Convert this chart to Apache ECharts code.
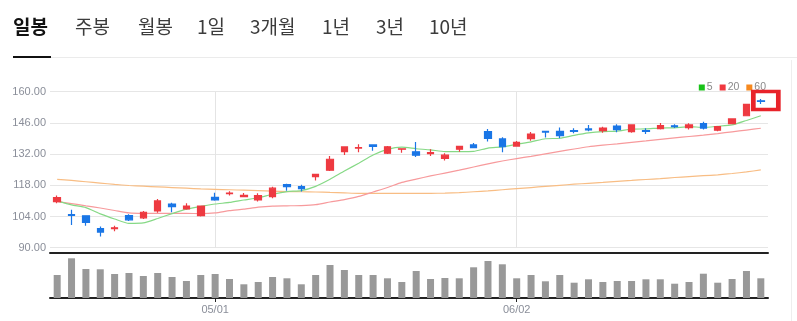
<!DOCTYPE html>
<html>
<head>
<meta charset="utf-8">
<script src="https://cdn.jsdelivr.net/npm/echarts@6/dist/echarts.min.js"></script>
<style>
  html, body { margin: 0; padding: 0; background: #fff; }
  #wrap { position: relative; width: 797px; height: 321px; overflow: hidden; }
  .tab { position: absolute; top: 15px; font-family: "Noto Sans CJK KR", sans-serif; font-size: 19px; line-height: 22px; color: #3c3c3c; white-space: nowrap; }
  .tab.on { color: #111; font-weight: 700; }
  #chart { position: absolute; left: 0; top: 0; width: 797px; height: 321px; }
</style>
</head>
<body>
<div id="wrap">
  <div id="chart"></div>
  <div id="tabs"></div>
  <div style="position:absolute;left:13px;top:57px;width:784px;height:1px;background:#ebebeb"></div>
  <div style="position:absolute;left:13px;top:56px;width:38px;height:2px;background:#111"></div>
  <div style="position:absolute;left:791px;top:60px;width:1px;height:261px;background:#eeeeee"></div>
</div>
<script>
// ---- data ----
const tabLabels = ['일봉', '주봉', '월봉', '1일', '3개월', '1년', '3년', '10년'];
const tabLeft = [13, 75, 138, 197, 250, 322, 376, 429];

const dates = ['04/15','04/16','04/17','04/21','04/22','04/23','04/24','04/25','04/28','04/29',
  '04/30','05/01','05/02','05/05','05/06','05/07','05/08','05/09','05/12','05/13',
  '05/14','05/15','05/16','05/19','05/20','05/21','05/22','05/23','05/27','05/28',
  '05/29','05/30','06/02','06/03','06/04','06/05','06/06','06/09','06/10','06/11',
  '06/12','06/13','06/16','06/17','06/18','06/20','06/23','06/24','06/25','06/26'];
const shownDates = ['05/01', '06/02'];

const openV  = [110.7,104.8,104.3,98.6,98.5,104.4,103.4,106.5,109.6,107.4,
  104.4,112.6,114.2,112.9,111.4,112.9,118.3,117.4,121.9,124.8,
  133.1,134.7,136.1,132.4,134.2,133.0,132.2,130.1,134.2,136.1,
  142.1,138.8,135.6,138.9,142.2,142.2,142.6,143.3,142.5,144.6,
  142.1,142.6,143.4,144.7,143.9,145.7,142.7,145.7,149.2,155.9];
const closeV = [112.5,104.5,101.4,97.0,98.9,102.5,105.9,111.0,108.4,108.7,
  108.7,111.4,114.5,113.5,113.4,116.7,117.4,116.5,122.9,129.7,
  135.2,134.9,135.5,135.3,134.4,131.5,132.7,131.5,135.5,134.9,
  139.1,135.3,137.3,141.0,141.9,140.3,142.2,142.9,143.7,143.0,
  145.1,142.2,144.8,144.3,145.1,143.7,144.3,147.8,154.3,155.6];
const lowV   = [110.0,100.2,99.9,95.0,97.4,102.0,102.9,105.7,105.9,107.0,
  104.0,111.1,113.4,112.8,110.7,112.2,115.6,115.2,120.1,124.4,
  131.6,132.8,133.5,132.1,132.6,130.7,131.2,129.1,133.1,134.9,
  137.6,132.8,135.3,138.0,139.4,139.1,141.3,142.2,141.6,141.8,
  141.6,141.0,143.0,143.7,143.0,143.0,142.2,145.6,149.1,154.5];
const highV  = [113.4,107.0,104.5,99.5,99.8,105.0,106.5,111.9,110.2,110.0,
  108.8,114.7,115.3,114.6,114.4,117.4,118.7,118.2,123.0,131.2,
  135.4,136.4,136.2,135.6,134.5,137.4,134.2,132.4,135.6,137.0,
  143.3,139.6,137.9,141.9,142.3,143.9,143.6,145.1,144.3,145.4,
  145.2,143.6,146.0,145.4,145.8,146.5,144.4,148.0,154.4,156.7];

const ma5  = [111.0,109.2,108.0,105.2,102.9,100.9,101.1,103.1,105.3,107.3,
  108.5,109.6,110.3,111.4,112.4,114.0,115.2,115.6,117.5,120.7,
  124.4,127.9,131.6,134.1,135.1,134.4,133.9,133.1,133.1,133.2,
  134.7,135.2,136.4,137.5,138.9,139.1,140.4,141.5,142.1,142.3,
  143.2,143.3,143.7,143.8,144.3,144.0,144.5,145.1,147.1,149.2];
const ma20 = [110.7,109.8,108.8,107.8,106.7,105.6,105.4,105.4,105.4,105.4,
  105.3,105.6,106.6,107.3,108.2,108.7,108.8,108.9,109.3,110.5,
  111.6,113.0,115.0,117.0,119.3,120.8,122.2,123.5,124.8,126.2,
  127.6,128.9,130.0,131.0,132.1,133.2,134.3,135.3,136.0,136.6,
  137.3,137.9,138.6,139.3,139.9,140.5,141.2,142.0,142.8,143.6];
const ma60 = [120.7,120.2,119.6,119.0,118.4,117.9,117.6,117.3,117.0,116.7,
  116.4,116.2,116.0,115.8,115.6,115.4,115.2,115.1,115.0,114.8,
  114.6,114.4,114.4,114.4,114.4,114.4,114.4,114.5,114.7,115.1,
  115.5,116.0,116.5,117.0,117.5,118.0,118.5,118.9,119.3,119.8,
  120.2,120.6,121.0,121.5,121.9,122.3,122.7,123.3,124.0,124.9];

const volume = [230,397,290,287,240,250,220,250,210,170,
  230,240,190,137,160,210,197,137,230,330,
  280,230,230,197,160,270,190,200,197,307,
  370,337,197,230,167,230,153,187,160,170,
  170,187,187,143,160,243,153,190,270,197];

const priceTicks = { min: 90, max: 160, step: 14 };
const maNames = ['5', '20', '60'];

// ---- tabs ----
const tabsEl = document.getElementById('tabs');
tabLabels.forEach((t, i) => {
  const d = document.createElement('div');
  d.className = 'tab' + (i === 0 ? ' on' : '');
  d.style.left = tabLeft[i] + 'px';
  d.textContent = t;
  tabsEl.appendChild(d);
});

// ---- chart ----
const candles = dates.map((d, i) => [openV[i], closeV[i], lowV[i], highV[i]]);
const last = dates.length - 1;
const showIdx = dates.map(d => shownDates.indexOf(d) >= 0);

const RED = '#ee3a41', BLUE = '#1a76e6';
const chart = echarts.init(document.getElementById('chart'), null, { renderer: 'canvas' });
chart.setOption({
  animation: false,
  legend: {
    right: 26, top: 77,
    icon: 'rect', itemWidth: 6, itemHeight: 6, itemGap: 7,
    textStyle: { color: '#8a8a8a', fontSize: 10.5, fontFamily: 'Liberation Sans', padding: [0, 0, 0, -3] },
    data: [
      { name: maNames[0], itemStyle: { color: '#19c219' } },
      { name: maNames[1], itemStyle: { color: '#f0383f' } },
      { name: maNames[2], itemStyle: { color: '#f6891f' } }
    ]
  },
  grid: [
    { left: 50, right: 29, top: 91.7, height: 156 },
    { left: 50, right: 29, top: 253, height: 45 }
  ],
  xAxis: [
    { type: 'category', gridIndex: 0, data: dates, boundaryGap: true,
      axisLine: { show: false }, axisTick: { show: false, alignWithLabel: true }, axisLabel: { show: false },
      splitLine: { show: true, alignWithLabel: true, interval: (i) => showIdx[i], lineStyle: { color: '#e4e4e4', width: 1 } } },
    { type: 'category', gridIndex: 1, data: dates, boundaryGap: true, position: 'bottom',
      axisLine: { show: true, lineStyle: { color: '#222', width: 2 } },
      axisTick: { show: true, interval: (i) => showIdx[i], alignWithLabel: true, length: 4, lineStyle: { color: '#222' } },
      axisLabel: { show: true, interval: (i) => showIdx[i], color: '#8a8e99', fontSize: 11, fontFamily: 'Liberation Sans', margin: 6 },
      splitLine: { show: false } },
    { type: 'category', gridIndex: 1, data: dates, boundaryGap: true, position: 'top',
      axisLine: { show: true, lineStyle: { color: '#222', width: 2 } },
      axisTick: { show: false }, axisLabel: { show: false } }
  ],
  yAxis: [
    { type: 'value', gridIndex: 0, min: priceTicks.min, max: priceTicks.max, interval: priceTicks.step,
      axisLine: { show: false }, axisTick: { show: false },
      axisLabel: { color: '#8a8e99', fontSize: 11, fontFamily: 'Liberation Sans', margin: 4, formatter: (v) => v.toFixed(2) },
      splitLine: { lineStyle: { color: '#e6e6e6', width: 1 } } },
    { type: 'value', gridIndex: 1, min: 0, max: 450,
      axisLine: { show: false }, axisTick: { show: false }, axisLabel: { show: false }, splitLine: { show: false } }
  ],
  series: [
    { name: maNames[2], type: 'line', xAxisIndex: 0, yAxisIndex: 0, data: ma60, symbol: 'none', smooth: 0.2,
      itemStyle: { color: '#f6891f' }, lineStyle: { color: '#f8bd84', width: 1.2 }, z: 2 },
    { name: maNames[1], type: 'line', xAxisIndex: 0, yAxisIndex: 0, data: ma20, symbol: 'none', smooth: 0.2,
      itemStyle: { color: '#f0383f' }, lineStyle: { color: '#f79a9c', width: 1.2 }, z: 2 },
    { name: maNames[0], type: 'line', xAxisIndex: 0, yAxisIndex: 0, data: ma5, symbol: 'none', smooth: 0.2,
      itemStyle: { color: '#19c219' }, lineStyle: { color: '#86d986', width: 1.2 }, z: 2 },
    { name: 'price', type: 'candlestick', xAxisIndex: 0, yAxisIndex: 0, data: candles, barWidth: 7, z: 3,
      itemStyle: { color: RED, color0: BLUE, borderColor: RED, borderColor0: BLUE, borderWidth: 1.2 },
      markPoint: {
        silent: true,
        symbol: 'rect', symbolSize: [25, 18], symbolOffset: [5, -1],
        itemStyle: { color: 'rgba(0,0,0,0)', borderColor: '#e8232a', borderWidth: 4 },
        label: { show: false },
        data: [{ coord: [last, closeV[last]] }]
      } },
    { name: 'volume', type: 'bar', xAxisIndex: 1, yAxisIndex: 1, data: volume, barWidth: 7,
      itemStyle: { color: '#999999' } }
  ]
});
</script>
</body>
</html>
